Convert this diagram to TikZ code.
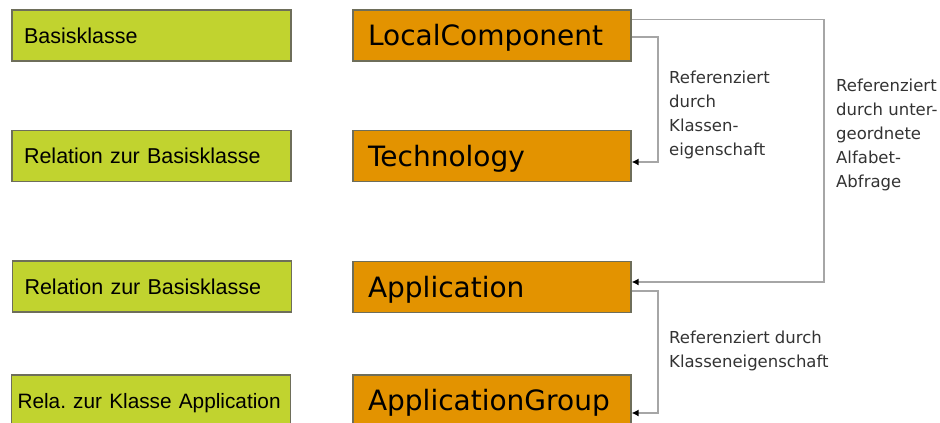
\documentclass[tikz,border=0pt]{standalone}
\usepackage{fontspec}
\setmainfont{Liberation Sans}
\newfontfamily\dejavu{DejaVu Sans}
\usetikzlibrary{arrows.meta}

\definecolor{basisgreen}{HTML}{C1D32F}
\definecolor{classorange}{HTML}{E39300}
\definecolor{edgegray}{HTML}{6E6E5A}
\definecolor{linegray}{HTML}{A6A6A6}

\begin{document}
\begin{tikzpicture}[
  x=1pt, y=-1pt,
  basisbox/.style={
    rectangle, draw=edgegray, line width=1.2pt, fill=basisgreen,
    minimum height=51pt, inner xsep=12pt, text width=255pt, align=left,
    font=\fontsize{21.5}{24}\selectfont, text height=15.4pt, text depth=0pt
  },
  classbox/.style={
    rectangle, draw=edgegray, line width=1.2pt, fill=classorange,
    minimum height=51pt, inner xsep=15pt, text width=248pt, align=left,
    font=\dejavu\fontsize{28}{30}\selectfont, text height=20.4pt, text depth=0pt
  },
  ref/.style={
    -{Latex[length=7pt,width=7pt,color=black]}, linegray, line width=1.8pt
  },
  note/.style={
    anchor=north west, inner sep=0pt, align=left,
    font=\dejavu\fontsize{16.5}{24}\selectfont, text=black!80
  },
]
\useasboundingbox (0,0) rectangle (940,423);

% Left column: role of each class
\node[basisbox] (basis) at (151.5,35.5) {Basisklasse};
\node[basisbox] (reltech) at (151.5,156) {Relation zur Basisklasse};
\node[basisbox] (relapp) at (152,286.5) {Relation zur Basisklasse};
\node[basisbox, inner xsep=6pt, text width=267pt] (relgroup) at (151,400.5)
  {\mbox{\fontsize{20.8}{24}\selectfont Rela.\ zur Klasse Application}};

% Right column: the classes
\node[classbox] (lc) at (492,35.5) {LocalComponent};
\node[classbox] (tech) at (492,156) {Technology};
\node[classbox] (app) at (492,287) {Application};
\node[classbox] (appgroup) at (492,400.5) {\mbox{ApplicationGroup}};

% References between classes
\draw[ref] ([yshift=-1.5pt]lc.east) -- ++(26pt,0) |- ([yshift=-6pt]tech.east);
\draw[ref] ([yshift=-10pt]lc.north east) -- ++(192pt,0) |- ([yshift=5pt]app.east);
\draw[ref] ([yshift=-4pt]app.east) -- ++(26pt,0) |- ([yshift=-12.5pt]appgroup.east);

% Reference labels
\node[note] (notetech) at (669,71)
  {Referenziert\\durch\\Klassen-\\eigenschaft};
\node[note] (noteapp) at (836,79)
  {Referenziert\\durch unter-\\geordnete\\Alfabet-\\Abfrage};
\node[note] (notegroup) at (669,331)
  {Referenziert durch\\Klasseneigenschaft};

\end{tikzpicture}
\end{document}
